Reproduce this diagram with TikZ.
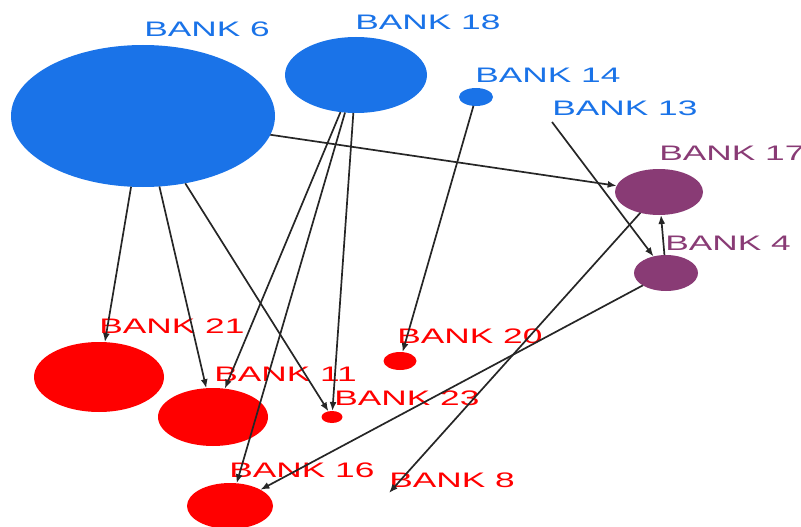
\documentclass[tikz,border=0pt]{standalone}
\usepackage{fontspec}
\setmainfont{Liberation Sans}
\usetikzlibrary{shapes.geometric, arrows.meta}
\definecolor{bankblue}{RGB}{26,115,232}
\definecolor{bankpurple}{RGB}{137,59,117}
\definecolor{bankred}{RGB}{255,0,0}

\begin{document}
\begin{tikzpicture}[x=1pt, y=-1pt,
    bank/.style={ellipse, inner sep=0pt, outer sep=0pt},
    banklabel/.style={font=\fontsize{21}{25}\selectfont, xscale=1.68, anchor=base west, inner sep=0pt},
    link/.style={-{Latex[length=9pt,width=7pt]}, line width=1.7pt, black!85}]
    \useasboundingbox (0,0) rectangle (801,527);

    % Banks (lenders in blue, in between in purple, borrowers in red)
    \node[bank, fill=bankblue, minimum width=264, minimum height=142] (b6) at (143,116) {};
    \node[bank, fill=bankblue, minimum width=142, minimum height=76] (b18) at (356,75) {};
    \node[bank, fill=bankblue, minimum width=34, minimum height=18] (b14) at (476,97) {};
    \coordinate (b13) at (552,122);
    \node[bank, fill=bankpurple, minimum width=88, minimum height=46] (b17) at (659,192) {};
    \node[bank, fill=bankpurple, minimum width=64, minimum height=36] (b4) at (666,273) {};
    \node[bank, fill=bankred, minimum width=130, minimum height=70] (b21) at (99,377) {};
    \node[bank, fill=bankred, minimum width=110, minimum height=58] (b11) at (213,417) {};
    \node[bank, fill=bankred, minimum width=21, minimum height=12] (b23) at (332,417) {};
    \node[bank, fill=bankred, minimum width=33, minimum height=18] (b20) at (400,361) {};
    \node[bank, fill=bankred, minimum width=86, minimum height=46] (b16) at (230,506) {};
    \coordinate (b8) at (389,493);

    % Bank names
    \foreach \n/\x/\y/\c in {6/144/37/bankblue, 18/355/30/bankblue, 14/475/82/bankblue,
        13/552/115/bankblue, 17/659/160/bankpurple, 4/665/250/bankpurple,
        21/99/333/bankred, 11/214/381/bankred, 23/334/405/bankred,
        20/397/343/bankred, 16/229/477/bankred, 8/389/487/bankred} {
        \node[banklabel, text=\c] (l\n) at (\x,\y) {BANK \n};
    }

    % Exposures
    \draw[link] (b6) -- (b17);
    \draw[link] (b6) -- (b21);
    \draw[link] (b6) -- (b11);
    \draw[link] (b6) -- (b23);
    \draw[link] (b18) -- (b11);
    \draw[link] (b18) -- (b16);
    \draw[link] (b18) -- (b23);
    \draw[link] (b14) -- (b20);
    \draw[link] (b13) -- (b4);
    \draw[link] (b4) -- (b17);
    \draw[link] (b17) -- (b8);
    \draw[link] (b4) -- (b16);
\end{tikzpicture}
\end{document}
